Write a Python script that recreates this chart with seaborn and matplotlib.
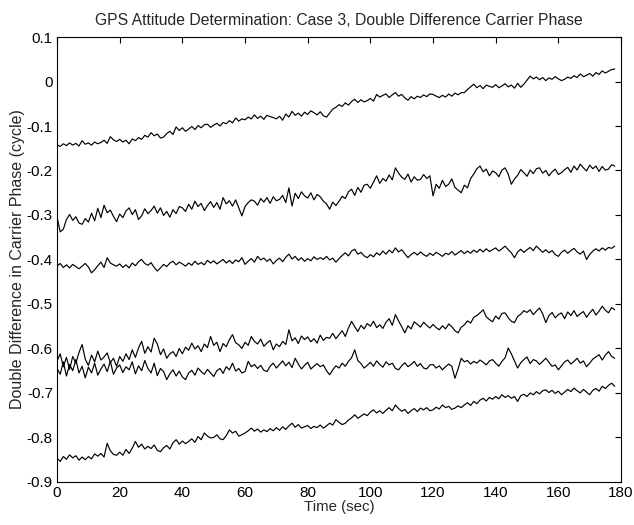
import numpy as np
import pandas as pd
import matplotlib
matplotlib.use("Agg")
import matplotlib.pyplot as plt
import seaborn as sns

# Values, in milli-cycles, one sample per second (t = 0..178 s)
time_sec = list(range(0, 179))

trace_1 = [
    -142, -146, -140, -144, -138, -143, -139, -145, -133, -141,
    -138, -143, -136, -140, -137, -132, -139, -124, -131, -135,
    -130, -136, -132, -140, -129, -133, -126, -130, -121, -125,
    -115, -122, -118, -127, -125, -117, -112, -119, -102, -110,
    -104, -112, -107, -101, -108, -99, -104, -97, -96, -103,
    -98, -94, -100, -92, -95, -88, -93, -82, -89, -84,
    -86, -80, -84, -75, -83, -78, -85, -76, -79, -81,
    -84, -78, -87, -73, -80, -67, -76, -71, -78, -69,
    -74, -66, -70, -75, -68, -77, -80, -71, -62, -58,
    -52, -56, -48, -53, -45, -40, -47, -41, -46, -43,
    -38, -44, -29, -35, -31, -28, -36, -30, -25, -33,
    -29, -37, -42, -34, -39, -33, -36, -30, -34, -28,
    -29, -33, -36, -31, -35, -28, -33, -26, -30, -25,
    -25, -18, -12, -6, -14, -9, -16, -8, -11, -13,
    -7, -14, -10, -5, -12, -8, -15, -4, -13, -6,
    3, 12, 6, 10, 4, 9, 2, 8, 5, 11,
    6, 2, 5, 10, 7, 13, 9, 17, 11, 14,
    18, 12, 20, 16, 24, 19, 23, 27, 28,
]

trace_2 = [
    -305, -338, -332, -310, -299, -312, -304, -318, -321, -308,
    -316, -296, -313, -285, -306, -278, -295, -289, -303, -315,
    -298, -306, -291, -284, -299, -288, -310, -302, -286, -297,
    -290, -280, -296, -284, -301, -292, -305, -288, -297, -281,
    -284, -292, -276, -287, -269, -281, -274, -290, -279, -270,
    -283, -272, -287, -261, -275, -268, -280, -266, -284, -302,
    -281, -272, -266, -269, -278, -263, -271, -261, -274, -259,
    -268, -265, -256, -272, -239, -280, -251, -263, -248, -257,
    -262, -250, -266, -254, -259, -269, -275, -287, -271, -279,
    -269, -258, -263, -248, -242, -256, -238, -249, -233, -231,
    -240, -226, -212, -229, -218, -224, -210, -221, -194, -206,
    -215, -220, -208, -226, -214, -222, -220, -209, -218, -212,
    -257, -231, -240, -222, -236, -231, -219, -238, -244, -250,
    -233, -239, -218, -208, -196, -190, -203, -197, -212, -201,
    -205, -214, -199, -194, -208, -231, -219, -211, -198, -205,
    -213, -199, -207, -196, -194, -206, -200, -212, -203, -197,
    -209, -205, -198, -193, -204, -190, -199, -186, -194, -201,
    -188, -196, -190, -202, -191, -199, -197, -187, -190,
]

trace_3 = [
    -415, -409, -418, -412, -419, -411, -416, -421, -415, -409,
    -417, -430, -423, -414, -406, -418, -396, -408, -412, -415,
    -410, -418, -412, -419, -408, -414, -405, -400, -409, -413,
    -407, -418, -426, -419, -411, -416, -408, -404, -412, -406,
    -410, -415, -408, -413, -404, -411, -407, -412, -402, -408,
    -403, -410, -405, -400, -408, -402, -409, -401, -405, -396,
    -411, -404, -398, -406, -393, -401, -397, -404, -399, -410,
    -402, -397, -405, -395, -388, -399, -393, -402, -396, -404,
    -398, -403, -394, -400, -396, -400, -393, -401, -397, -406,
    -398, -391, -385, -392, -381, -377, -388, -384, -392, -396,
    -389, -394, -385, -390, -381, -388, -379, -385, -374, -383,
    -378, -387, -396, -389, -384, -390, -383, -389, -393, -386,
    -391, -384, -388, -393, -386, -389, -382, -390, -385, -380,
    -387, -381, -386, -379, -384, -377, -383, -376, -382, -378,
    -374, -381, -376, -370, -378, -385, -396, -383, -377, -384,
    -378, -373, -380, -370, -377, -384, -378, -385, -380, -389,
    -393, -384, -379, -386, -380, -375, -383, -388, -381, -400,
    -389, -381, -376, -381, -374, -379, -373, -375, -370,
]

trace_4 = [
    -628, -612, -641, -620, -647, -618, -633, -609, -591, -624,
    -638, -615, -630, -606, -626, -619, -610, -632, -622, -640,
    -618, -629, -612, -625, -603, -620, -599, -584, -611, -596,
    -608, -577, -590, -614, -601, -622, -612, -607, -618, -600,
    -612, -597, -604, -588, -601, -594, -607, -590, -598, -573,
    -593, -586, -607, -589, -596, -580, -569, -587, -592, -600,
    -586, -593, -573, -584, -590, -579, -595, -588, -582, -603,
    -590, -596, -584, -591, -558, -583, -576, -589, -572, -580,
    -574, -585, -578, -588, -570, -582, -575, -577, -566, -578,
    -569, -560, -573, -554, -539, -551, -562, -548, -556, -544,
    -550, -539, -553, -547, -555, -541, -533, -548, -524, -538,
    -551, -565, -549, -556, -540, -546, -552, -541, -548, -554,
    -546, -553, -558, -549, -556, -545, -551, -560, -565, -552,
    -547, -538, -543, -530, -526, -520, -513, -529, -535, -540,
    -527, -534, -521, -520, -531, -539, -542, -528, -523, -515,
    -519, -513, -524, -516, -509, -522, -542, -526, -519, -531,
    -524, -520, -533, -518, -526, -515, -528, -522, -517, -530,
    -520, -512, -525, -516, -505, -514, -520, -508, -513,
]

trace_5 = [
    -645, -658, -630, -662, -636, -650, -625, -655, -640, -666,
    -642, -655, -633, -660, -646, -635, -652, -629, -658, -644,
    -637, -654, -641, -648, -630, -657, -639, -650, -627, -645,
    -655, -633, -661, -645, -652, -670, -657, -648, -662, -651,
    -664, -670, -655, -649, -660, -644, -652, -658, -647, -655,
    -663, -650, -645, -656, -641, -648, -633, -651, -645, -655,
    -652, -629, -641, -636, -645, -638, -649, -652, -640, -633,
    -644, -636, -628, -639, -631, -643, -622, -635, -646, -638,
    -631, -646, -640, -634, -641, -637, -650, -659, -648, -639,
    -644, -633, -640, -629, -621, -603, -627, -634, -644, -638,
    -631, -640, -628, -636, -642, -630, -637, -633, -645, -648,
    -639, -632, -641, -636, -629, -640, -634, -644, -646, -637,
    -636, -644, -639, -648, -641, -635, -640, -667, -646, -622,
    -630, -627, -635, -629, -633, -626, -631, -637, -628, -625,
    -633, -640, -629, -621, -599, -612, -628, -644, -632, -625,
    -619, -634, -625, -628, -636, -629, -622, -631, -640, -637,
    -648, -639, -630, -626, -635, -629, -622, -633, -628, -641,
    -633, -624, -619, -614, -626, -615, -607, -618, -622,
]

trace_6 = [
    -847, -854, -843, -849, -839, -846, -841, -851, -844, -850,
    -843, -848, -837, -842, -836, -844, -813, -830, -838, -840,
    -833, -840, -827, -836, -824, -809, -822, -815, -826, -820,
    -825, -817, -829, -832, -823, -818, -826, -812, -805, -815,
    -808, -814, -809, -803, -811, -798, -805, -790, -797, -801,
    -800, -794, -803, -805, -796, -783, -790, -786, -797, -794,
    -790, -785, -779, -786, -781, -788, -783, -787, -780, -785,
    -778, -784, -776, -782, -774, -768, -777, -771, -779, -776,
    -773, -780, -775, -778, -772, -779, -774, -768, -772, -760,
    -766, -771, -768, -761, -756, -749, -757, -752, -747, -751,
    -743, -738, -745, -740, -746, -739, -733, -740, -727, -735,
    -741, -737, -746, -740, -735, -742, -734, -738, -733, -740,
    -738, -732, -736, -727, -733, -730, -737, -734, -729, -733,
    -727, -722, -728, -719, -724, -716, -712, -718, -710, -714,
    -708, -713, -704, -710, -706, -712, -708, -719, -706, -703,
    -708, -700, -704, -697, -702, -695, -693, -699, -694, -701,
    -696, -704, -698, -692, -697, -689, -695, -700, -692, -698,
    -704, -694, -690, -696, -685, -690, -683, -678, -685,
]

traces = [trace_1, trace_2, trace_3, trace_4, trace_5, trace_6]

sns.set_theme(style="white")
plt.rcParams["font.family"] = ["Liberation Sans", "DejaVu Sans"]

fig = plt.figure(figsize=(6.34, 5.25), dpi=100)
ax = fig.add_axes([0.09, 0.082, 0.8895, 0.8475])

for i, tr in enumerate(traces):
    df = pd.DataFrame({"t": time_sec, "dd": np.array(tr) / 1000.0})
    sns.lineplot(data=df, x="t", y="dd", color="black", linewidth=0.85, ax=ax)

ax.set_xlim(0, 180)
ax.set_ylim(-0.9, 0.1)
ax.set_xticks(range(0, 181, 20))
ax.set_yticks(np.round(np.arange(-0.9, 0.11, 0.1), 1))
ax.set_yticklabels(["-0.9", "-0.8", "-0.7", "-0.6", "-0.5", "-0.4",
                    "-0.3", "-0.2", "-0.1", "0", "0.1"])
ax.tick_params(direction="in", top=True, right=True, length=4, width=0.8,
               labelsize=11, colors="black", pad=3)
for sp in ax.spines.values():
    sp.set_color("black")
    sp.set_linewidth(0.8)

ax.set_title("GPS Attitude Determination: Case 3, Double Difference Carrier Phase",
             fontsize=11.3, pad=9)
ax.set_xlabel("Time (sec)", fontsize=10.8, labelpad=0)
ax.set_ylabel("Double Difference in Carrier Phase (cycle)", fontsize=11.5, labelpad=1)

fig.savefig("out.png", dpi=100)
